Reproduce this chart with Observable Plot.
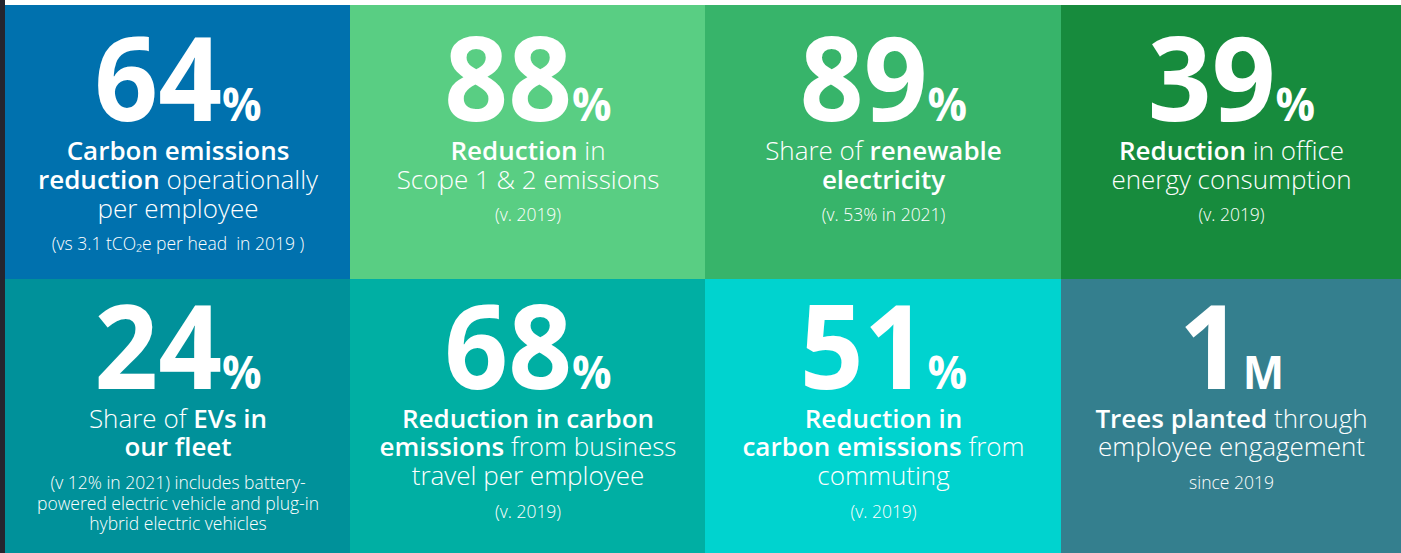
<!DOCTYPE html>
<html><head><meta charset="utf-8">
<script src="https://cdn.jsdelivr.net/npm/d3@7"></script>
<script src="https://cdn.jsdelivr.net/npm/@observablehq/plot@0.6"></script>
<style>
html,body{margin:0;padding:0;background:#fff;}
#wrap{border-left:5px solid #25252f;width:1396px;height:553px;overflow:hidden}
svg{display:block}
</style></head><body><div id="wrap"></div>
<script>
// ---- data ----
const columns = [0, 1, 2, 3];
const figures = ["64", "88", "89", "39", "24", "68", "51", "1"];
const units = ["%", "%", "%", "%", "%", "%", "%", "M"];
const tileColors = ["#0071ae", "#59ce83", "#37b46a", "#178b3d", "#00919a", "#00afa3", "#00d3cf", "#347f8e"];
const headlines = [
  ["**Carbon emissions**", "**reduction** operationally", "per employee"],
  ["**Reduction** in", "Scope 1 & 2 emissions"],
  ["Share of **renewable**", "**electricity**"],
  ["**Reduction** in office", "energy consumption"],
  ["Share of **EVs in**", "**our fleet**"],
  ["**Reduction in carbon**", "**emissions** from business", "travel per employee"],
  ["**Reduction in**", "**carbon emissions** from", "commuting"],
  ["**Trees planted** through", "employee engagement"]
];
const notes = [
  ["(vs 3.1 tCO\u2082e per head  in 2019 )"],
  ["(v. 2019)"],
  ["(v. 53% in 2021)"],
  ["(v. 2019)"],
  ["(v 12% in 2021) includes battery-", "powered electric vehicle and plug-in", "hybrid electric vehicles"],
  ["(v. 2019)"],
  ["(v. 2019)"],
  ["since 2019"]
];

// ---- layout (derived) ----
const ROW = 274;
const layout = [
  {num: 115, head: 154, step: 29, gap: 32, noteStep: 20},
  {num: 109, head: 148, step: 28.5, gap: 33, noteStep: 20.5}
];
const tiles = figures.map((v, i) => ({
  col: columns[i % 4], row: Math.floor(i / 4), value: v, unit: units[i], color: tileColors[i]
}));
const headRows = [], noteRows = [];
tiles.forEach((t, i) => {
  const L = layout[t.row], top = t.row * ROW;
  headlines[i].forEach((s, k) => headRows.push({col: t.col, y: top + L.head + k * L.step, text: s}));
  const last = L.head + (headlines[i].length - 1) * L.step;
  notes[i].forEach((s, k) => noteRows.push({col: t.col, y: top + last + L.gap + k * L.noteStep, text: s}));
});

const font = "'Open Sans', 'DejaVu Sans', sans-serif";
const chart = Plot.plot({
  width: 1396, height: 553,
  marginTop: 5, marginLeft: 0, marginRight: 0, marginBottom: 0,
  x: {type: "linear", domain: [0, 1, 2, 3, 4], range: [0, 345, 700, 1056, 1396], axis: null},
  y: {type: "linear", domain: [0, 2 * ROW], reverse: true, axis: null},
  style: {background: "#fff", fontFamily: font},
  marks: [
    Plot.rect(tiles, {x1: "col", x2: d => d.col + 1, y1: d => d.row * ROW, y2: d => (d.row + 1) * ROW, fill: d => d.color}),
    Plot.text(tiles, {x: d => d.col + 0.5, y: d => d.row * ROW + layout[d.row].num, text: d => d.value + "|" + d.unit,
      fill: "white", fontSize: 117, fontWeight: 700, textAnchor: "middle", lineAnchor: "bottom"}),
    Plot.text(headRows, {x: d => d.col + 0.5, y: "y", text: "text", fill: "white", fontSize: 26, fontWeight: 300,
      textAnchor: "middle", lineAnchor: "bottom"}),
    Plot.text(noteRows, {x: d => d.col + 0.5, y: "y", text: "text", fill: "white", fontSize: 17.5, fontWeight: 300,
      textAnchor: "middle", lineAnchor: "bottom"})
  ]
});

// rich text: bold segments and smaller units
const svg = d3.select(chart);
const groups = svg.selectAll("g[aria-label=text]").nodes();
d3.select(groups[1]).selectAll("text").each(function() {
  const el = d3.select(this);
  const parts = el.text().split("**");
  el.text(null);
  parts.forEach((p, j) => { if (p) el.append("tspan").attr("font-weight", j % 2 ? 600 : 300).text(p); });
});
d3.select(groups[0]).selectAll("text").each(function() {
  const el = d3.select(this);
  const [num, unit] = el.text().split("|");
  el.text(null);
  el.attr("transform", (el.attr("transform") || "") + " scale(0.955,1)");
  el.append("tspan").text(num);
  el.append("tspan").attr("font-size", 46).attr("font-weight", 700).text(unit);
});
document.getElementById("wrap").appendChild(chart);
</script>
</body></html>
